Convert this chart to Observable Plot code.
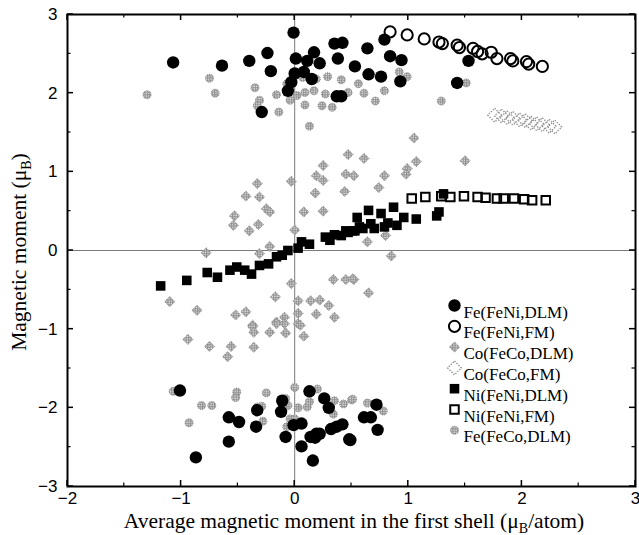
<!DOCTYPE html>
<html>
<head>
<meta charset="utf-8">
<script src="https://cdn.jsdelivr.net/npm/d3@7"></script>
<script src="https://cdn.jsdelivr.net/npm/@observablehq/plot@0.6"></script>
<style>
  html, body { margin: 0; padding: 0; background: #fff; }
  #chart { width: 639px; height: 535px; }
</style>
</head>
<body>
<div id="chart"></div>
<script>
// Local moments vs. average first-shell moment, [x, y] pairs per series.
const feFeNiDLM = [
  [-1.07,2.39],[-0.64,2.35],[-0.40,2.41],[-0.24,2.51],[-0.21,2.28],[-0.29,1.76],[-0.01,2.77],
  [0.01,2.44],[0.11,2.41],[0.17,2.52],[0.22,2.38],[0.00,2.25],[0.08,2.27],[-0.03,2.14],[0.15,2.18],
  [-0.06,2.03],[0.35,2.63],[0.42,2.64],[0.38,2.44],[0.53,2.34],[0.37,1.96],[0.41,1.96],[0.64,2.57],
  [0.79,2.68],[0.84,2.47],[0.94,2.42],[0.65,2.24],[0.76,2.21],[0.93,2.15],[1.43,2.13],[1.53,2.41],
  [-1.01,-1.78],[-0.87,-2.63],[-0.58,-2.12],[-0.49,-2.18],[-0.58,-2.43],[-0.34,-2.24],[-0.33,-2.03],
  [-0.12,-2.05],[-0.11,-1.91],[-0.08,-2.37],[0.06,-2.20],[-0.01,-2.22],[0.06,-2.49],[0.14,-2.37],
  [0.19,-2.33],[0.16,-2.67],[0.13,-1.79],[0.26,-1.88],[0.30,-2.00],[0.32,-2.27],[0.37,-2.24],
  [0.42,-2.21],[0.48,-2.40],[0.72,-1.96],[0.61,-2.12],[0.67,-2.12],[0.73,-2.28],[0.49,-2.41],
  [0.18,-2.38],[0.22,-2.33]
];
const feFeNiFM = [
  [0.84,2.78],[0.99,2.74],[1.14,2.69],[1.27,2.65],[1.30,2.63],[1.43,2.61],[1.45,2.58],[1.57,2.57],
  [1.61,2.53],[1.65,2.50],[1.73,2.52],[1.78,2.44],[1.90,2.44],[1.92,2.41],[2.04,2.40],[2.06,2.37],
  [2.18,2.34]
];
const coFeCoDLM = [
  [0.47,1.22],[0.25,1.08],[1.05,1.43],[0.61,1.17],[1.07,1.13],[1.50,1.14],[0.99,1.04],
  [0.52,0.95],[0.79,0.95],[0.74,0.80],[0.98,0.97],
  [0.19,0.95],[0.25,0.89],[0.45,0.97],[-0.03,0.88],[-0.33,0.85],[-0.43,0.69],[-0.31,0.68],
  [-0.25,0.53],[-0.22,0.49],[-0.53,0.44],[-0.54,0.32],[-0.40,0.25],[-0.32,0.33],[0.08,0.49],
  [0.25,0.50],[0.18,0.73],[0.44,0.75],[0.00,0.26],[-0.22,0.05],[-0.31,-0.04],[-0.78,-0.03],
  [-1.10,-0.65],[-0.86,-0.76],[-0.52,-0.82],[-0.43,-0.78],[-0.17,-0.59],[-0.03,-0.42],[0.03,-0.64],
  [0.14,-0.64],[0.22,-0.63],[0.30,-0.70],[0.19,-0.81],[0.35,-0.85],[0.34,-0.37],[0.45,-0.37],
  [0.52,-0.37],[0.03,-0.80],[-0.16,-0.91],[-0.09,-0.85],[0.03,-0.93],[-0.37,-0.95],
  [0.64,0.11],[0.80,0.19],[0.85,-0.07],[0.51,-0.36],[0.65,-0.54],
  [-0.94,-1.13],[-0.75,-1.22],[-0.56,-1.22],[-0.59,-1.35],[-0.36,-1.23],[-0.37,-0.97],[-0.36,-1.04],
  [-0.22,-1.04],[-0.16,-0.93],[-0.09,-0.93],[-0.08,-1.05],[0.05,-0.95],[0.08,-1.09]
];
const coFeCoFM = [
  [1.76,1.72],[1.82,1.71],[1.87,1.69],[1.92,1.68],[1.98,1.66],[2.03,1.65],[2.08,1.62],
  [2.13,1.61],[2.18,1.60],[2.24,1.58],[2.29,1.57]
];
const niFeNiDLM = [
  [-1.18,-0.45],[-0.95,-0.38],[-0.77,-0.28],[-0.68,-0.34],[-0.57,-0.25],[-0.51,-0.21],[-0.44,-0.25],
  [-0.38,-0.30],[-0.31,-0.19],[-0.23,-0.17],[-0.16,-0.08],[-0.11,-0.06],[-0.06,0.00],[0.03,0.03],
  [0.06,0.11],[0.13,0.08],[0.27,0.17],[0.31,0.13],[0.41,0.19],[0.47,0.23],[0.53,0.25],[0.55,0.42],
  [0.51,0.25],[0.57,0.30],[0.65,0.51],[0.67,0.34],[0.76,0.47],[0.79,0.30],[0.87,0.55],[0.90,0.32],
  [0.96,0.42],[1.07,0.40],[1.25,0.44],[1.27,0.49],[1.31,0.72],
  [0.35,0.20],[0.45,0.25],[0.60,0.28],[0.70,0.28],[0.82,0.35]
];
const niFeNiFM = [
  [1.03,0.66],[1.15,0.68],[1.29,0.69],[1.37,0.68],[1.49,0.69],[1.61,0.68],[1.68,0.67],[1.78,0.66],
  [1.84,0.66],[1.93,0.66],[2.02,0.65],[2.09,0.64],[2.21,0.64]
];
const feFeCoDLM = [
  [-1.30,1.98],[-0.75,2.19],[-0.70,2.00],[-0.35,2.07],[-0.31,1.91],[-0.33,1.84],[-0.16,1.98],
  [-0.14,1.76],[-0.07,2.12],[-0.04,1.91],[0.02,1.97],[0.07,2.20],[0.09,2.01],[0.09,1.85],[0.17,2.03],
  [0.19,2.18],[0.27,1.99],[0.29,2.21],[0.24,1.84],[0.33,1.82],[0.41,2.17],[0.47,2.01],[0.13,1.58],
  [0.56,2.12],[0.61,2.00],[0.71,1.90],[0.79,2.03],[0.92,2.27],[0.99,2.21],[1.29,1.90],[1.51,2.13],
  [-1.07,-1.79],[-0.82,-1.97],[-0.73,-1.97],[-0.51,-1.80],[-0.52,-1.87],[-0.25,-1.81],[-0.33,-1.99],
  [-0.29,-1.98],[-0.28,-2.17],[-0.93,-2.19],[-0.55,-2.14],[-0.08,-1.88],[-0.06,-1.97],[0.00,-1.74],
  [-0.04,-2.14],[0.00,-2.14],[-0.07,-2.24],[0.03,-2.00],[0.11,-1.99],[0.13,-1.92],[0.20,-1.76],
  [0.35,-1.91],[0.43,-1.95],[0.50,-1.90],[0.34,-2.08],[0.51,-1.89],[0.64,-1.94],[0.78,-2.04]
];

// Axis ticks and labels
const xTicks = [-2, -1, 0, 1, 2, 3];
const yTicks = [-3, -2, -1, 0, 1, 2, 3];
const xMinor = [-1.5, -0.5, 0.5, 1.5, 2.5];
const yMinor = [-2.5, -1.5, -0.5, 0.5, 1.5, 2.5];
const intFormat = d => (d < 0 ? "\u2212" : "") + Math.abs(d);

const legendLabels = [
  "Fe(FeNi,DLM)", "Fe(FeNi,FM)", "Co(FeCo,DLM)", "Co(FeCo,FM)",
  "Ni(FeNi,DLM)", "Ni(FeNi,FM)", "Fe(FeCo,DLM)"
];

// Marker styles for each series
const styles = [
  {symbol: "circle", r: 6.2, fill: "black", stroke: "none"},
  {symbol: "circle", r: 5.6, fill: "none", stroke: "black", strokeWidth: 2},
  {symbol: "diamond2", r: 4.6, fill: "white", stroke: "#8a8a8a", strokeWidth: 1, strokeDasharray: "1.2,1", ariaDescription: "hatch"},
  {symbol: "diamond2", r: 6.2, fill: "none", stroke: "#8f8f8f", strokeWidth: 1.3, strokeDasharray: "1.4,1.4"},
  {symbol: "square", r: 5.4, fill: "black", stroke: "none"},
  {symbol: "square", r: 4.8, fill: "none", stroke: "black", strokeWidth: 2},
  {symbol: "circle", r: 4.0, fill: "white", stroke: "#8a8a8a", strokeWidth: 1, strokeDasharray: "1.2,1", ariaDescription: "hatch"}
];
const seriesData = [feFeNiDLM, feFeNiFM, coFeCoDLM, coFeCoFM, niFeNiDLM, niFeNiFM, feFeCoDLM];
// draw order: grey series underneath, black on top
const drawOrder = [6, 2, 3, 4, 5, 0, 1];

const marginLeft = 67, marginTop = 14, marginRight = 4, marginBottom = 49;
const legendX = 454 - marginLeft, legendY0 = 305 - marginTop, legendStep = 20.8;

const marks = [
  Plot.ruleX([0], {stroke: "#7a7a7a", strokeWidth: 1}),
  Plot.ruleY([0], {stroke: "#7a7a7a", strokeWidth: 1}),
  ...drawOrder.map(i => Plot.dot(seriesData[i], {x: d => d[0], y: d => d[1], ...styles[i]})),
  // legend
  ...legendLabels.flatMap((label, i) => [
    Plot.dot([label], {frameAnchor: "top-left", dx: legendX, dy: legendY0 + i * legendStep, ...styles[i]}),
    Plot.text([label], {frameAnchor: "top-left", dx: legendX + 9, dy: legendY0 + i * legendStep,
      text: d => d, textAnchor: "start", fontFamily: "Liberation Serif", fontSize: 17, fill: "black"})
  ]),
  // tick labels
  Plot.axisX(xTicks, {anchor: "bottom", tickSize: 0, tickPadding: 5, label: null, fontSize: 17, tickFormat: intFormat}),
  Plot.axisY(yTicks, {anchor: "left", tickSize: 0, tickPadding: 10, label: null, fontSize: 17, tickFormat: intFormat}),
  Plot.frame({stroke: "black", strokeWidth: 2})
];

const svg = Plot.plot({
  width: 639,
  height: 535,
  marginLeft, marginTop, marginRight, marginBottom,
  x: {domain: [-2, 3]},
  y: {domain: [-3, 3]},
  style: {fontFamily: "Liberation Sans", fontSize: "17px", color: "black", background: "white"},
  marks
});

const root = d3.select(svg);
const xs = svg.scale("x"), ys = svg.scale("y");
const [x0, x1] = xs.range, [y0, y1] = ys.range; // y0 bottom, y1 top

// inward tick marks on all four sides
const tickG = root.append("g").attr("stroke", "black");
for (const [vals, len, w] of [[xTicks, 6, 1.5], [xMinor, 3.5, 1.2]]) {
  for (const v of vals) {
    const px = xs.apply(v);
    tickG.append("line").attr("x1", px).attr("x2", px).attr("y1", y0).attr("y2", y0 - len).attr("stroke-width", w);
    tickG.append("line").attr("x1", px).attr("x2", px).attr("y1", y1).attr("y2", y1 + len).attr("stroke-width", w);
  }
}
for (const [vals, len, w] of [[yTicks, 6, 1.5], [yMinor, 3.5, 1.2]]) {
  for (const v of vals) {
    const py = ys.apply(v);
    tickG.append("line").attr("y1", py).attr("y2", py).attr("x1", x0).attr("x2", x0 + len).attr("stroke-width", w);
    tickG.append("line").attr("y1", py).attr("y2", py).attr("x1", x1).attr("x2", x1 - len).attr("stroke-width", w);
  }
}

// grey cross-hatch fill for the FeCo DLM markers
const defs = root.insert("defs", ":first-child");
const pat = defs.append("pattern")
  .attr("id", "hatch").attr("patternUnits", "userSpaceOnUse")
  .attr("width", 2.4).attr("height", 2.4);
pat.append("rect").attr("width", 2.4).attr("height", 2.4).attr("fill", "#e4e4e4");
pat.append("path").attr("d", "M0 0.6H2.4M0.6 0V2.4").attr("stroke", "#8c8c8c").attr("stroke-width", 1);
root.selectAll('g[aria-description="hatch"]').attr("fill", "url(#hatch)");

// axis titles with subscripted μB
const xt = root.append("text")
  .attr("x", 354).attr("y", 528)
  .attr("text-anchor", "middle")
  .attr("font-family", "Liberation Serif").attr("font-size", 21.5).attr("fill", "black");
xt.append("tspan").text("Average magnetic moment in the first shell (μ");
xt.append("tspan").attr("dy", 5).attr("font-size", 14).text("B");
xt.append("tspan").attr("dy", -5).text("/atom)");

const yt = root.append("text")
  .attr("transform", "translate(26,252) rotate(-90)")
  .attr("text-anchor", "middle")
  .attr("font-family", "Liberation Serif").attr("font-size", 21.5).attr("fill", "black");
yt.append("tspan").text("Magnetic moment (μ");
yt.append("tspan").attr("dy", 5).attr("font-size", 14).text("B");
yt.append("tspan").attr("dy", -5).text(")");

document.getElementById("chart").append(svg);
</script>
</body>
</html>
